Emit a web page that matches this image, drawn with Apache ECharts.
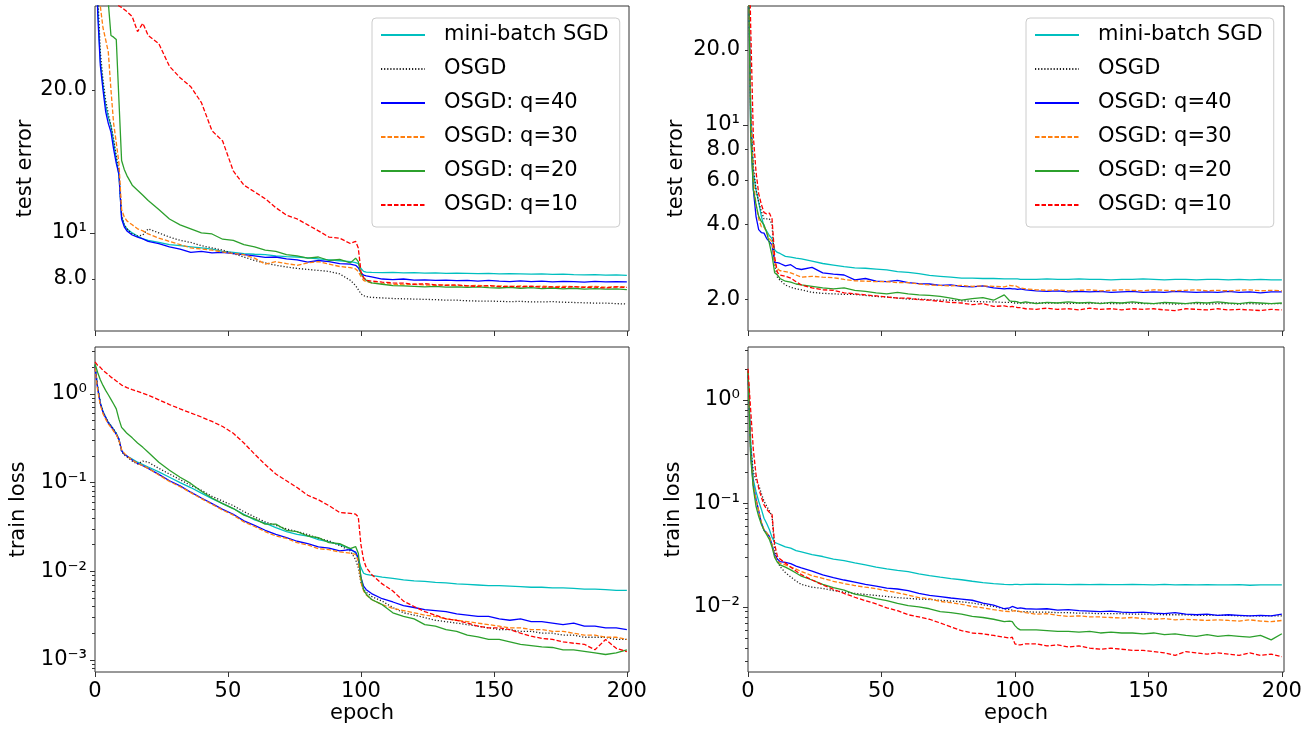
<!DOCTYPE html>
<html><head><meta charset="utf-8">
<script src="https://cdn.jsdelivr.net/npm/echarts@6/dist/echarts.min.js"></script>
<style>html,body{margin:0;padding:0;background:#fff}#c{width:1316px;height:734px}</style>
</head><body><div id="c"></div>
<script>
// ---------- data ----------
const epochs = [0,1,2,3,4,5,6,7,8,9,10,11,12, 14,16,18,20, 24,28,32,36,40,44,48,52,56,60,64,68,72,76,80,84,88,92,96, 98,99,100,101,102,104, 108,112,116,120,124,128,132,136,140,144,148,152,156,160,164,168,172,176,180,184,188,192,196,200];
const seriesNames = ['mini-batch SGD','OSGD','OSGD: q=40','OSGD: q=30','OSGD: q=20','OSGD: q=10'];

// top-left: test error
const errL_sgd  = [60,30,23,20.5,18.5,17.5,16.8,15.5,14.3,13.2,10.8,10.4,10.2, 10.0,9.85,9.72,9.65, 9.55,9.45,9.4,9.35,9.3,9.25,9.15,9.1,9.05,9.02,9.0,8.95,8.92,8.9,8.86,8.82,8.78,8.74,8.7, 8.66,8.62,8.42,8.3,8.27,8.26, 8.25,8.26,8.24,8.25,8.23,8.24,8.22,8.23,8.22,8.21,8.22,8.2,8.21,8.2,8.19,8.2,8.18,8.19,8.17,8.16,8.17,8.15,8.16,8.14];
const errL_osgd = [60,32,24,21,19,17.8,16.8,15.8,14.5,13.5,10.9,10.4,10.2, 9.95,9.85,9.9,10.2, 10.0,9.8,9.65,9.55,9.4,9.3,9.2,9.05,8.9,8.75,8.65,8.55,8.48,8.42,8.38,8.34,8.3,8.2,7.95, 7.75,7.6,7.45,7.38,7.35,7.32, 7.3,7.28,7.27,7.26,7.25,7.24,7.22,7.22,7.2,7.19,7.19,7.18,7.17,7.18,7.16,7.16,7.17,7.15,7.14,7.13,7.12,7.12,7.1,7.09];
const errL_q40  = [60,29,22.5,20,18,17,16.3,15,14,13.3,10.7,10.3,10.1, 9.9,9.8,9.72,9.6, 9.5,9.35,9.25,9.1,9.15,9.08,9.1,9.05,9.0,8.95,8.88,8.9,8.82,8.78,8.68,8.75,8.7,8.62,8.6, 8.55,8.45,8.25,8.15,8.12,8.08, 8.0,7.98,8.0,7.96,7.97,7.95,7.96,7.94,7.95,7.92,7.95,7.92,7.9,7.93,7.9,7.92,7.89,7.91,7.9,7.88,7.91,7.89,7.9,7.89];
const errL_q30  = [70,40,30,27,25.5,24,20,17,15.5,14,11.2,10.8,10.6, 10.4,10.2,10.1,9.95, 9.75,9.6,9.45,9.3,9.25,9.2,9.12,9.05,9.0,8.85,8.6,8.7,8.62,8.55,8.65,8.7,8.6,8.5,8.45, 8.4,8.3,8.1,7.95,7.9,7.85, 7.82,7.8,7.78,7.8,7.77,7.76,7.78,7.75,7.74,7.76,7.73,7.74,7.72,7.74,7.71,7.73,7.7,7.72,7.71,7.7,7.72,7.69,7.71,7.7];
const errL_q20  = [80,45,36,33,31.5,30.5,26,25.8,25.5,19,14.2,13.6,13.2, 12.6,12.3,12.0,11.7, 11.2,10.7,10.4,10.2,10.0,9.95,9.7,9.65,9.45,9.35,9.2,9.15,9.0,8.95,8.85,8.9,8.75,8.8,8.65, 8.85,8.7,8.2,8.05,7.95,7.85, 7.8,7.75,7.74,7.72,7.7,7.72,7.69,7.7,7.68,7.7,7.67,7.66,7.68,7.65,7.67,7.64,7.66,7.63,7.65,7.62,7.64,7.62,7.63,7.6];
const errL_q10  = [90,70,55,47,42,38,35,33,31,30,29.8,29.5,29.2, 28.5,26.5,27.6,26, 25,22.4,21.2,20.3,18.8,16.4,15.6,13.5,12.6,12.2,11.8,11.3,10.9,10.7,10.4,10.1,9.8,9.75,9.5, 9.6,9.3,8.3,8.05,7.95,7.92, 7.88,7.85,7.84,7.8,7.82,7.78,7.76,7.78,7.74,7.72,7.75,7.71,7.72,7.7,7.73,7.69,7.7,7.68,7.71,7.68,7.69,7.66,7.7,7.68];

// top-right: test error
const errR_sgd  = [60,12,6.5,5.5,4.9,4.3,3.9,3.75,3.6,3.5,3.15,3.08,3.05, 2.97,2.95,2.92,2.9, 2.84,2.78,2.74,2.7,2.67,2.66,2.64,2.62,2.58,2.56,2.53,2.49,2.47,2.45,2.43,2.43,2.42,2.42,2.41, 2.41,2.41,2.41,2.41,2.4,2.4, 2.4,2.41,2.4,2.4,2.41,2.4,2.4,2.39,2.4,2.4,2.41,2.4,2.39,2.4,2.4,2.39,2.4,2.4,2.39,2.4,2.39,2.4,2.39,2.39];
const errR_osgd = [60,11,6.8,5.5,4.9,4.5,4.2,4.2,4.2,4.0,2.75,2.45,2.38, 2.28,2.23,2.2,2.18, 2.13,2.11,2.1,2.09,2.09,2.07,2.05,2.04,2.02,2.0,2.0,1.99,1.98,1.98,1.97,1.96,1.95,1.95,1.94, 1.94,1.94,1.93,1.93,1.93,1.93, 1.93,1.93,1.93,1.92,1.93,1.92,1.93,1.92,1.92,1.93,1.92,1.92,1.92,1.91,1.92,1.92,1.91,1.92,1.92,1.91,1.92,1.91,1.92,1.92];
const errR_q40  = [60,10,5.5,4.3,3.8,3.7,3.68,3.5,3.4,3.3,2.8,2.8,2.78, 2.72,2.75,2.66,2.63, 2.68,2.55,2.52,2.5,2.39,2.42,2.36,2.35,2.38,2.33,2.31,2.3,2.27,2.28,2.25,2.24,2.26,2.22,2.2, 2.21,2.2,2.2,2.19,2.2,2.18, 2.16,2.15,2.16,2.14,2.15,2.14,2.15,2.13,2.14,2.15,2.13,2.14,2.13,2.15,2.14,2.13,2.14,2.13,2.15,2.13,2.14,2.12,2.14,2.14];
const errR_q30  = [60,11,6,4.8,4.2,3.9,3.9,3.7,3.5,3.4,2.8,2.65,2.6, 2.58,2.55,2.5,2.45, 2.47,2.45,2.44,2.4,2.37,2.36,2.35,2.35,2.33,2.33,2.3,2.28,2.27,2.26,2.27,2.25,2.26,2.25,2.24, 2.27,2.26,2.27,2.24,2.22,2.2, 2.18,2.17,2.18,2.16,2.17,2.18,2.16,2.17,2.18,2.17,2.16,2.18,2.17,2.16,2.17,2.18,2.16,2.17,2.16,2.17,2.18,2.16,2.17,2.16];
const errR_q20  = [60,9,5.5,4.8,4.3,4.1,3.97,3.7,3.35,3.0,2.55,2.5,2.42, 2.36,2.34,2.3,2.28, 2.25,2.22,2.2,2.22,2.17,2.15,2.12,2.1,2.13,2.1,2.08,2.07,2.05,2.02,1.98,2.01,2.03,1.98,2.08, 1.97,1.96,1.96,1.95,1.93,1.95, 1.92,1.94,1.93,1.95,1.93,1.94,1.92,1.94,1.93,1.95,1.93,1.92,1.94,1.93,1.92,1.94,1.93,1.95,1.93,1.92,1.94,1.93,1.92,1.93];
const errR_q10  = [90,25,9,6.5,5.3,4.8,4.45,4.4,4.43,4.2,2.95,2.56,2.5, 2.47,2.43,2.35,2.28, 2.22,2.18,2.17,2.12,2.1,2.08,2.06,2.04,2.02,2.02,1.99,1.98,1.96,1.94,1.93,1.9,1.92,1.87,1.88, 1.86,1.87,1.86,1.85,1.85,1.83, 1.82,1.84,1.82,1.83,1.81,1.84,1.82,1.83,1.81,1.83,1.82,1.83,1.81,1.8,1.83,1.82,1.81,1.83,1.81,1.82,1.81,1.8,1.82,1.81];

// bottom-left: train loss
const lossL_sgd  = [2.1,1.2,0.8,0.64,0.55,0.48,0.44,0.4,0.36,0.31,0.23,0.21,0.2, 0.185,0.17,0.16,0.15, 0.132,0.115,0.1,0.088,0.076,0.066,0.058,0.051,0.044,0.038,0.035,0.031,0.028,0.026,0.025,0.0228,0.0215,0.02,0.018, 0.016,0.014,0.011,0.0095,0.0092,0.009, 0.0086,0.0083,0.008,0.0078,0.0077,0.0075,0.0074,0.0072,0.0071,0.007,0.0069,0.0069,0.0068,0.0067,0.0066,0.0066,0.0065,0.0065,0.0064,0.0063,0.0063,0.0062,0.0061,0.0061];
const lossL_osgd = [2.1,1.2,0.8,0.63,0.55,0.48,0.44,0.4,0.36,0.3,0.225,0.205,0.195, 0.175,0.162,0.175,0.17, 0.145,0.125,0.108,0.093,0.082,0.07,0.062,0.055,0.047,0.041,0.036,0.033,0.03,0.028,0.026,0.0235,0.022,0.0195,0.017, 0.0135,0.011,0.0075,0.0062,0.0058,0.0052, 0.0046,0.0039,0.0034,0.0032,0.003,0.0028,0.0027,0.0026,0.0025,0.0024,0.0023,0.0022,0.0022,0.0021,0.0021,0.002,0.002,0.0019,0.0019,0.0018,0.0018,0.0018,0.0017,0.0017];
const lossL_q40  = [2.0,1.15,0.78,0.62,0.54,0.47,0.43,0.39,0.35,0.31,0.23,0.21,0.2, 0.18,0.165,0.155,0.145, 0.124,0.105,0.092,0.078,0.067,0.058,0.05,0.044,0.037,0.033,0.029,0.026,0.024,0.0218,0.0205,0.0188,0.0182,0.017,0.0175, 0.0165,0.014,0.0085,0.0068,0.0062,0.0056, 0.0049,0.0045,0.0041,0.0039,0.0037,0.0036,0.0035,0.0033,0.0032,0.0031,0.0031,0.0029,0.0028,0.0029,0.0027,0.0027,0.0026,0.0025,0.0026,0.0024,0.0024,0.0023,0.0023,0.0022];
const lossL_q30  = [2.0,1.1,0.75,0.6,0.52,0.46,0.42,0.38,0.35,0.3,0.235,0.215,0.2, 0.18,0.165,0.155,0.145, 0.122,0.103,0.09,0.077,0.066,0.057,0.049,0.043,0.036,0.032,0.028,0.025,0.0235,0.021,0.0198,0.018,0.0175,0.0165,0.016, 0.0155,0.013,0.0075,0.006,0.0054,0.0048, 0.0042,0.0038,0.0036,0.0034,0.0032,0.0031,0.0029,0.0028,0.0027,0.0026,0.0025,0.0024,0.0023,0.0023,0.0022,0.0022,0.0021,0.0021,0.002,0.0019,0.0019,0.0018,0.0018,0.0017];
const lossL_q20  = [2.2,1.75,1.45,1.25,1.1,0.98,0.87,0.77,0.68,0.52,0.42,0.39,0.36, 0.32,0.28,0.25,0.22, 0.17,0.138,0.115,0.098,0.08,0.067,0.058,0.051,0.043,0.039,0.034,0.034,0.029,0.028,0.025,0.024,0.021,0.0205,0.018, 0.019,0.016,0.0085,0.0062,0.0055,0.0048, 0.0042,0.0034,0.0031,0.0029,0.0025,0.0024,0.0022,0.0021,0.0019,0.00182,0.0017,0.0017,0.0016,0.0015,0.00145,0.0014,0.00138,0.0013,0.0013,0.00125,0.0012,0.00115,0.0012,0.0013];
const lossL_q10  = [2.3,2.1,2.0,1.85,1.75,1.65,1.55,1.48,1.4,1.33,1.26,1.22,1.18, 1.12,1.07,1.02,0.97, 0.86,0.76,0.68,0.61,0.55,0.49,0.43,0.36,0.28,0.21,0.16,0.125,0.105,0.088,0.072,0.064,0.055,0.046,0.045, 0.044,0.041,0.02,0.0134,0.011,0.0092, 0.0072,0.006,0.0046,0.004,0.0035,0.0032,0.0029,0.0028,0.0026,0.0024,0.0023,0.0023,0.0022,0.002,0.00185,0.00175,0.0017,0.0016,0.00154,0.0015,0.0013,0.0017,0.00135,0.00124];

// bottom-right: train loss
const lossR_sgd  = [1.95,0.4,0.17,0.13,0.105,0.088,0.072,0.064,0.056,0.047,0.042,0.041,0.04, 0.038,0.037,0.035,0.034, 0.032,0.0307,0.029,0.028,0.0266,0.0255,0.0243,0.0233,0.0225,0.0219,0.0209,0.0201,0.0194,0.0188,0.0183,0.0177,0.0172,0.0168,0.0165, 0.0164,0.0164,0.0165,0.0165,0.0164,0.0165, 0.0166,0.0165,0.0165,0.0164,0.0165,0.0164,0.0165,0.0164,0.0164,0.0165,0.0164,0.0163,0.0165,0.0163,0.0164,0.0163,0.0164,0.0163,0.0163,0.0164,0.0162,0.0163,0.0163,0.0163];
const lossR_osgd = [1.9,0.35,0.2,0.17,0.15,0.125,0.105,0.094,0.085,0.075,0.036,0.028,0.0245, 0.0215,0.0195,0.0178,0.0165, 0.0155,0.0151,0.0144,0.0139,0.0135,0.0132,0.0129,0.0126,0.0123,0.0121,0.0119,0.0118,0.0116,0.0114,0.0112,0.0109,0.0105,0.0101,0.0096, 0.0094,0.0093,0.0092,0.0091,0.009,0.009, 0.0089,0.0089,0.0088,0.0088,0.0087,0.0087,0.0086,0.0086,0.0086,0.0085,0.0085,0.0085,0.0084,0.0084,0.0084,0.0083,0.0083,0.0083,0.0083,0.0082,0.0082,0.0082,0.0082,0.0082];
const lossR_q40  = [1.9,0.3,0.15,0.11,0.085,0.065,0.055,0.052,0.048,0.04,0.032,0.029,0.0274, 0.027,0.0262,0.0248,0.0238, 0.0222,0.0204,0.0192,0.0182,0.0174,0.0165,0.0159,0.0152,0.0149,0.0144,0.0135,0.0129,0.0126,0.0122,0.0119,0.0116,0.0109,0.0104,0.0096, 0.0098,0.0101,0.0099,0.0097,0.0098,0.0096, 0.0095,0.0096,0.0093,0.0094,0.0092,0.0091,0.009,0.0091,0.0089,0.0088,0.0089,0.0087,0.0086,0.0088,0.0085,0.0084,0.0085,0.0083,0.0084,0.0083,0.0082,0.0083,0.0082,0.0085];
const lossR_q30  = [1.9,0.3,0.15,0.11,0.085,0.066,0.056,0.052,0.048,0.04,0.031,0.028,0.0265, 0.0255,0.0243,0.0232,0.022, 0.02,0.0189,0.0177,0.0168,0.0161,0.0155,0.015,0.0143,0.0137,0.013,0.0123,0.012,0.0113,0.011,0.0106,0.0101,0.0098,0.0094,0.0091, 0.009,0.0091,0.0092,0.0091,0.009,0.0088, 0.0085,0.0086,0.0083,0.0081,0.0082,0.008,0.008,0.0079,0.0078,0.0079,0.0077,0.0076,0.0077,0.0075,0.0076,0.0075,0.0074,0.0075,0.0074,0.0073,0.0075,0.0073,0.0072,0.0074];
const lossR_q20  = [1.9,0.28,0.14,0.094,0.075,0.063,0.055,0.05,0.045,0.038,0.03,0.027,0.0255, 0.0242,0.0228,0.0213,0.0198, 0.0182,0.0165,0.0154,0.0145,0.0133,0.0127,0.012,0.0115,0.0108,0.0103,0.01,0.0096,0.009,0.0088,0.0085,0.0081,0.0079,0.0076,0.0072, 0.0073,0.0072,0.0066,0.0062,0.006,0.006, 0.006,0.0059,0.0058,0.0058,0.0057,0.0058,0.0056,0.0057,0.0056,0.0056,0.0055,0.0056,0.0054,0.0055,0.0053,0.0052,0.0054,0.0052,0.0053,0.0052,0.0051,0.0053,0.0048,0.0055];
const lossR_q10  = [2.0,0.8,0.33,0.19,0.14,0.115,0.097,0.088,0.082,0.078,0.04,0.031,0.029, 0.0265,0.0243,0.0222,0.0205, 0.0182,0.0163,0.0148,0.0135,0.0124,0.0115,0.0107,0.0098,0.0092,0.0084,0.008,0.0076,0.007,0.0064,0.0059,0.0056,0.0055,0.0053,0.0051, 0.005,0.0051,0.0044,0.0043,0.0043,0.0044, 0.0044,0.0042,0.0043,0.0041,0.0042,0.004,0.0039,0.004,0.0039,0.0038,0.0038,0.0037,0.0036,0.0034,0.0037,0.0036,0.0035,0.0036,0.0035,0.0034,0.0036,0.0034,0.0035,0.0033];

// tick labels
const xTicks = [0, 50, 100, 150, 200];
const errL_labels = [8, 10, 20];
const errR_labels = [2, 4, 6, 8, 10, 20];
const lossL_labels = [0.001, 0.01, 0.1, 1];
const lossR_labels = [0.01, 0.1, 1];

// ---------- chart ----------
const FONT = 'DejaVu Sans';
const TXT = '#000';
const AX = '#333';
const styles = [
  {color: '#00bfbf', type: 'solid'},
  {color: '#222222', type: [1.2, 1.9]},
  {color: '#0000ff', type: 'solid'},
  {color: '#ff7f0e', type: [4.5, 2]},
  {color: '#2ca02c', type: 'solid'},
  {color: '#ff0000', type: [4.5, 2]}
];
const SUP = {'-': '\u207B', '0': '\u2070', '1': '\u00B9', '2': '\u00B2', '3': '\u00B3'};
function fmtLog(v) {
  const r = Math.round(v);
  if (Math.abs(v - r) < 1e-6) return '10' + String(r).split('').map(c => SUP[c]).join('');
  return Math.pow(10, v).toFixed(1);
}
function minorsFor(lo, hi) {
  const out = [];
  for (let d = Math.floor(Math.log10(lo)) - 1; d <= Math.ceil(Math.log10(hi)); d++) {
    for (let m = 2; m <= 9; m++) { const v = m * Math.pow(10, d); if (v >= lo && v <= hi) out.push(v); }
  }
  return out;
}
const L = Math.log10;

const panels = [
  {left: 95, top: 6, width: 534, yMin: 6.22, yMax: 30, labels: errL_labels, major: [10], minor: [8, 20],
   name: 'test error', nameGap: 58, showX: false,
   data: [errL_sgd, errL_osgd, errL_q40, errL_q30, errL_q20, errL_q10]},
  {left: 748, top: 6, width: 536, yMin: 1.49, yMax: 30, labels: errR_labels, major: [10], minor: [2, 4, 6, 8, 20],
   name: 'test error', nameGap: 61, showX: false,
   data: [errR_sgd, errR_osgd, errR_q40, errR_q30, errR_q20, errR_q10]},
  {left: 95, top: 347, width: 534, yMin: 7.3e-4, yMax: 3.39, labels: lossL_labels, major: lossL_labels, minor: minorsFor(7.3e-4, 3.39),
   name: 'train loss', nameGap: 66, showX: true,
   data: [lossL_sgd, lossL_osgd, lossL_q40, lossL_q30, lossL_q20, lossL_q10]},
  {left: 748, top: 347, width: 536, yMin: 2.35e-3, yMax: 3.25, labels: lossR_labels, major: lossR_labels, minor: minorsFor(2.35e-3, 3.25),
   name: 'train loss', nameGap: 64, showX: true,
   data: [lossR_sgd, lossR_osgd, lossR_q40, lossR_q30, lossR_q20, lossR_q10]}
];
const XMAX = 200.8;
const N = panels.length;

// grids 0..3 hold the data; grids 4..7 are identical overlays that only carry the minor y ticks
const grids = panels.map(p => ({
  left: p.left, top: p.top, width: p.width, height: 325,
  show: true, borderColor: AX, borderWidth: 1, backgroundColor: 'transparent',
  containLabel: false, outerBoundsMode: 'none'
})).concat(panels.map(p => ({
  left: p.left, top: p.top, width: p.width, height: 325,
  show: false, containLabel: false, outerBoundsMode: 'none'
})));

const xAxes = panels.map((p, i) => ({
  type: 'value', gridIndex: i, min: 0, max: XMAX,
  axisLine: {show: false, onZero: false}, splitLine: {show: false},
  axisTick: {show: true, inside: false, length: 5, lineStyle: {color: AX, width: 1}, customValues: xTicks},
  axisLabel: {show: p.showX, customValues: xTicks, margin: 9, fontSize: 21, color: TXT, fontFamily: FONT},
  name: p.showX ? 'epoch' : '', nameLocation: 'middle', nameGap: 31,
  nameTextStyle: {fontSize: 21, color: TXT, fontFamily: FONT}
})).concat(panels.map((p, i) => ({
  type: 'value', gridIndex: N + i, min: 0, max: XMAX, show: false,
  axisLine: {show: false, onZero: false}, splitLine: {show: false}
})));

const yAxes = panels.map((p, i) => ({
  type: 'value', gridIndex: i, position: 'left', min: L(p.yMin), max: L(p.yMax),
  axisLine: {show: false, onZero: false}, splitLine: {show: false},
  axisTick: {show: true, inside: false, length: 5, lineStyle: {color: AX, width: 1}, customValues: p.major.map(L)},
  axisLabel: {show: true, customValues: p.labels.map(L), formatter: fmtLog, margin: 8, fontSize: 21, color: TXT, fontFamily: FONT},
  name: p.name, nameLocation: 'middle', nameGap: p.nameGap,
  nameTextStyle: {fontSize: 21, color: TXT, fontFamily: FONT}
})).concat(panels.map((p, i) => ({
  type: 'value', gridIndex: N + i, position: 'left', min: L(p.yMin), max: L(p.yMax),
  axisLine: {show: false, onZero: false}, splitLine: {show: false},
  axisTick: {show: true, inside: false, length: 3, lineStyle: {color: AX, width: 1}, customValues: p.minor.map(L)},
  axisLabel: {show: false}
})));

const series = [];
panels.forEach((p, i) => {
  p.data.forEach((arr, k) => {
    series.push({
      type: 'line', name: seriesNames[k], xAxisIndex: i, yAxisIndex: i,
      data: epochs.map((e, j) => [e, L(arr[j])]),
      showSymbol: false, symbol: 'none', silent: true, clip: true,
      lineStyle: {color: styles[k].color, width: 1.3, type: styles[k].type},
      itemStyle: {color: styles[k].color, opacity: 0},
      emphasis: {disabled: true}
    });
  });
});

function legendAt(left) {
  return {
    show: true, orient: 'vertical', left: left, top: 18,
    data: seriesNames, selectedMode: false,
    itemWidth: 44, itemHeight: 14, itemGap: 10,
    padding: [5, 11, 10, 8],
    backgroundColor: 'rgba(255,255,255,0.8)', borderColor: '#cccccc', borderWidth: 1, borderRadius: 4,
    itemStyle: {opacity: 0},
    textStyle: {fontSize: 21, fontFamily: FONT, color: TXT, lineHeight: 24, padding: [0, 0, 0, 14]}
  };
}

const chart = echarts.init(document.getElementById('c'), null, {renderer: 'canvas'});
chart.setOption({
  animation: false,
  backgroundColor: '#fff',
  textStyle: {fontFamily: FONT},
  grid: grids,
  xAxis: xAxes,
  yAxis: yAxes,
  legend: [legendAt(372), legendAt(1026)],
  series: series
});
</script>
</body></html>
